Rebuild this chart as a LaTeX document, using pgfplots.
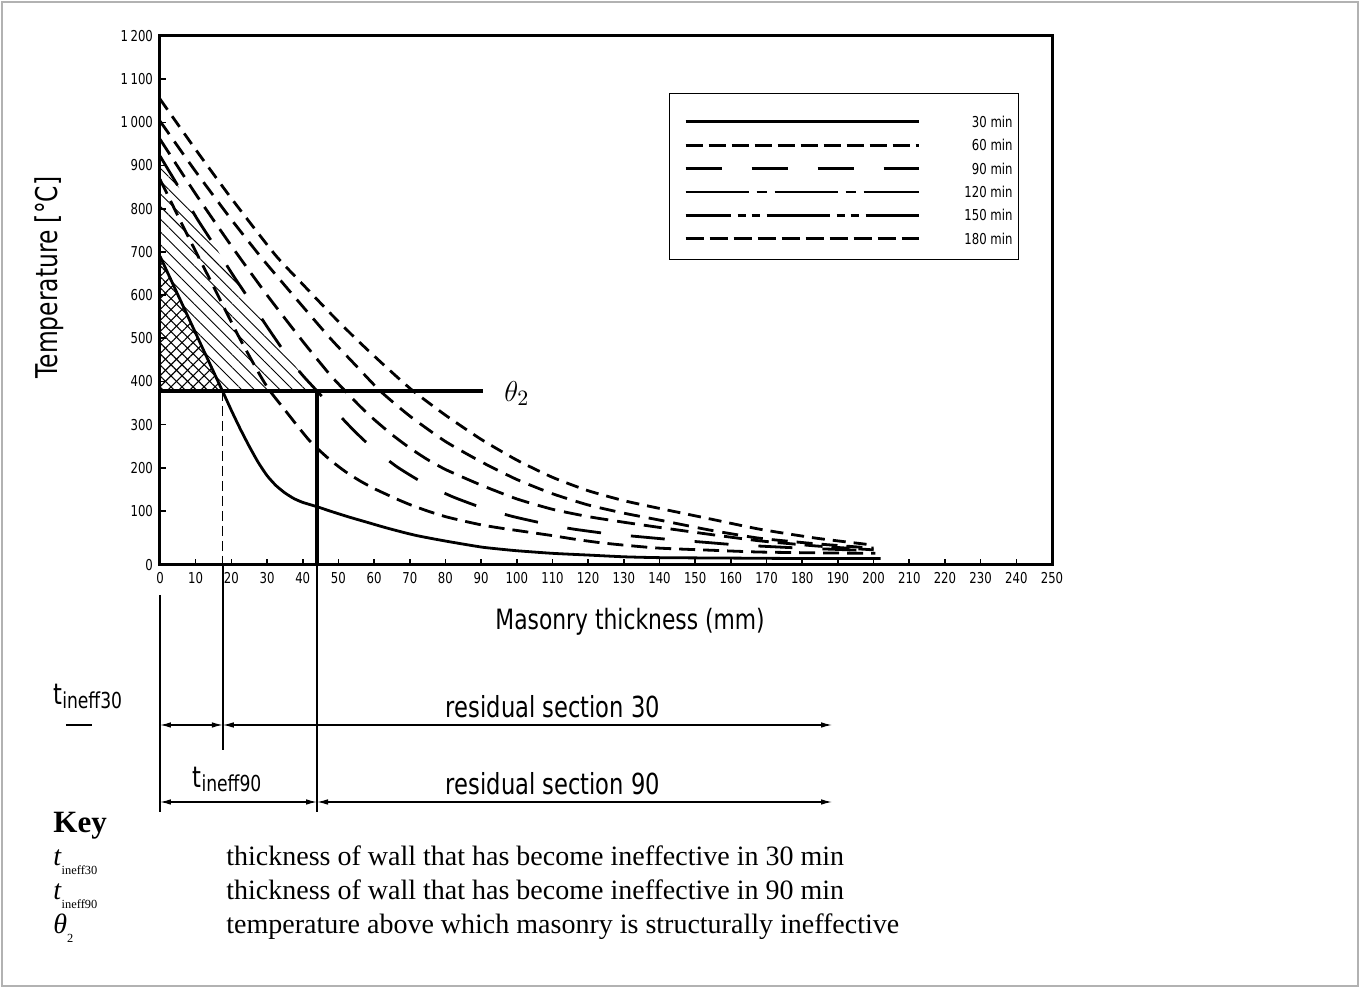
\documentclass[border=0pt]{standalone}
\usepackage{fontspec}
\setmainfont{Liberation Serif}
\newfontfamily\isofont{DejaVu Sans}[FakeStretch=0.78]
\usepackage{pgfplots}
\pgfplotsset{compat=1.18}
\usetikzlibrary{arrows.meta,patterns.meta}

\newcommand{\iso}[1]{\isofont\fontsize{#1}{#1}\selectfont}
\newcommand{\tsub}[1]{t\raisebox{-2pt}{\iso{11}#1}}
\newcommand{\ksub}[2]{\textit{#1}\raisebox{-4.5pt}{\fontsize{6.2}{6.2}\selectfont #2}}

% curve data (x in mm, temperature in degC)
\pgfplotstableread{
x y
0 690
17.5 378
20 333
22.5 290
25 250
27.5 213
30 182
32.5 159
35 142
37.5 129
40 120
44 110
48 99
53 86
58 74
63 62
68 51
72 43
77 35
81 29
86 22
90.5 16
95 12
100 8
110 2
120 -2
130 -6
140 -8
160 -9
180 -10
202 -10
}\tthirty
\pgfplotstableread{
x y
0 868
7.5 742
15 620
22 505
28 415
30.8 378
35 334
39 292
42 262
45 238
48 216
52 191
56 170
60 152
66 129
70 115
75 100
80 87
85 77
90 68
95 61
100 55
105 49
110 43
116 35
123 27
130 21
140 14
155 9
168 5
185 3
200.5 2
}\tsixty
\pgfplotstableread{
x y
0 922
5.6 845
10.3 778
15.4 713
20 652
25 590
30 527
36 455
40 414
44 378
48 342
52.5 302
56 273
59.3 248
66.3 203
73.8 165
82 133
90.5 107
99 87
109.3 68
116 58
126 47
135 40
143 34
152 28
161 22
170 18
180 14
190 11
200 8
}\tninety
\pgfplotstableread{
x y
0 961
10 834
20 714
30 600
40 493
47.6 416
51.9 378
56 343
60 312
65 277
70 246
75 219
80.3 195
90 160
100 128
110 104
120 87
130 74
140 62
154 46
168 31
184 19
200 10
}\tonetwenty
\pgfplotstableread{
x y
0 1003
10 886
20 775
28.5 686
38 593
47.6 501
55 436
61.7 378
70 320
80 261
90 214
100 173
110 140
120 114
130 95
140 79
154 56
168 37
184 24
200 14
}\tonefifty
\pgfplotstableread{
x y
0 1054
10 937
20 824
32.2 694
40 625
47.6 559
55 498
62.5 440
70.5 381
80 322
90 266
100 218
110 178
120 147
130 124
140 106
154 82
168 58
184 37
200 21
}\toneeighty

\begin{document}
\begin{tikzpicture}
% page frame, 1 unit = 1 px of the reference (0.5pt), origin at the axis corner
\begin{scope}[shift={(-80pt,282.5pt)},x=0.5pt,y=-0.5pt]
\useasboundingbox (0,0) rectangle (1360,988);
\draw[gray!60,line width=0.6pt] (2,2) rectangle (1358,986);
\end{scope}

\begin{axis}[
 at={(0pt,0pt)},anchor=south west,
 scale only axis,width=446pt,height=264.5pt,
 xmin=0,xmax=250,ymin=-25,ymax=1200,
 xtick={0,10,...,250},
 ytick={100,200,...,1200},
 extra y ticks={-25},extra y tick labels={0},
 extra tick style={grid=none},
 tick pos=left,tick align=inside,
 major tick length=3pt,
 axis line style={line width=1.5pt},
 every tick/.style={black,line width=0.8pt},
 /pgf/number format/assume math mode=true,
 /pgf/number format/1000 sep={\,},
 tick label style={font=\iso{7.5}},
 xlabel={Masonry thickness (mm)},
 ylabel={Temperature [°C]},
 xlabel style={font=\iso{14},at={(axis description cs:0.527,-0.108)},anchor=center},
 ylabel style={font=\iso{15},at={(axis description cs:-0.1245,0.543)},anchor=center},
 clip=false,
 legend cell align=right,
 legend image code/.code={
   \path[draw=none] (0pt,7.25pt) (141.5pt,0pt);
   \draw[#1] (6pt,0pt) -- (122.5pt,0pt);},
 legend style={at={(0.5706,0.892)},anchor=north west,draw=black,line width=0.6pt,
   font=\iso{7.5},inner xsep=2pt,inner ysep=6.75pt,row sep=0.7pt,
   nodes={inner sep=1pt,text height=5.5pt,text depth=0pt}},
 every axis plot/.append style={line width=1.4pt,smooth,tension=0.35},
]
% hatched zones
\addplot[draw=none,sharp plot,forget plot,pattern={Lines[angle=-45,distance=4.5pt,line width=0.45pt]}]
 coordinates {(0,690) (0,922) (5.6,845) (10.3,778) (15.4,713) (20,652) (25,590)
   (30,527) (36,455) (40,414) (44,378) (17.5,378)} -- cycle;
\addplot[draw=none,sharp plot,forget plot,pattern={Lines[angle=45,distance=3.9pt,line width=0.55pt]}]
 coordinates {(0,378) (0,690) (17.5,378)} -- cycle;
\addplot[draw=none,sharp plot,forget plot,pattern={Lines[angle=-45,distance=3.9pt,line width=0.55pt]}]
 coordinates {(0,378) (0,690) (17.5,378)} -- cycle;

% curves
\addplot[forget plot] table {\tthirty};
\addplot[dash pattern=on 8pt off 4pt,forget plot] table {\tsixty};
\addplot[dash pattern=on 17pt off 15pt,forget plot] table {\tninety};
\addplot[dash pattern=on 9pt off 4.5pt,forget plot] table {\tonetwenty};
\addplot[dash pattern=on 8pt off 4.5pt,forget plot] table {\tonefifty};
\addplot[dash pattern=on 6.5pt off 4pt,forget plot] table {\toneeighty};

% legend
\addlegendimage{line width=1.4pt}
\addlegendentry{\makebox[27pt][r]{30 min}}
\addlegendimage{line width=1.4pt,dash pattern=on 8.5pt off 3pt}
\addlegendentry{\makebox[27pt][r]{60 min}}
\addlegendimage{line width=1.4pt,dash pattern=on 18pt off 15pt}
\addlegendentry{\makebox[27pt][r]{90 min}}
\addlegendimage{line width=1.4pt,dash pattern=on 31.5pt off 4pt on 5pt off 4pt}
\addlegendentry{\makebox[27pt][r]{120 min}}
\addlegendimage{line width=1.4pt,dash pattern=on 31.5pt off 3.5pt on 4pt off 3pt on 4pt off 3.5pt,dash phase=9pt}
\addlegendentry{\makebox[27pt][r]{150 min}}
\addlegendimage{line width=1.4pt,dash pattern=on 9pt off 3pt}
\addlegendentry{\makebox[27pt][r]{180 min}}

% theta_2 and the two ineffective thicknesses
\draw[line width=1.6pt] (axis cs:0,378) -- (axis cs:90.5,378);
\node[anchor=center,font=\fontsize{15}{15}\selectfont] at (axis cs:100,372) {$\theta_2$};
\draw[line width=0.7pt,dash pattern=on 5pt off 2.5pt] (axis cs:17.6,378) -- (axis cs:17.6,-25);
\draw[line width=1.6pt] (axis cs:44,378) -- (axis cs:44,-25);
\end{axis}

\begin{scope}[shift={(-80pt,282.5pt)},x=0.5pt,y=-0.5pt]
\draw[line width=0.7pt] (160,595) -- (160,812);
\draw[line width=0.7pt] (222.8,565) -- (222.8,750);
\draw[line width=0.7pt] (317,565) -- (317,812);
\begin{scope}[line width=0.6pt,{Latex[length=5.5pt,width=2.8pt]}-{Latex[length=5.5pt,width=2.8pt]}]
\draw (160,725) -- (222.8,725);
\draw (222.8,725) -- (832,725);
\draw (160,802) -- (317,802);
\draw (317,802) -- (832,802);
\end{scope}
\node[anchor=base,inner sep=0,font=\iso{14.5}] at (553,718) {residual section 30};
\node[anchor=base,inner sep=0,font=\iso{14.5}] at (553,795) {residual section 90};
\node[anchor=base,inner sep=0,font=\iso{14.5}] at (227,788) {\tsub{ineff90}};
\node[anchor=base west,inner sep=0,font=\iso{14.5}] at (53,705) {\tsub{ineff30}};
\draw[line width=0.6pt] (66,725) -- (92,725);

% key
\node[anchor=base west,inner sep=0,font=\bfseries\fontsize{15.5}{15.5}\selectfont] at (53,833) {Key};
\begin{scope}[every node/.style={anchor=base west,inner sep=0,font=\fontsize{14}{14}\selectfont}]
\node at (53,866) {\ksub{t}{ineff30}};
\node at (226,866) {thickness of wall that has become ineffective in 30 min};
\node at (53,900) {\ksub{t}{ineff90}};
\node at (226,900) {thickness of wall that has become ineffective in 90 min};
\node at (53,934) {\ksub{θ}{2}};
\node at (226,934) {temperature above which masonry is structurally ineffective};
\end{scope}
\end{scope}
\end{tikzpicture}
\end{document}
